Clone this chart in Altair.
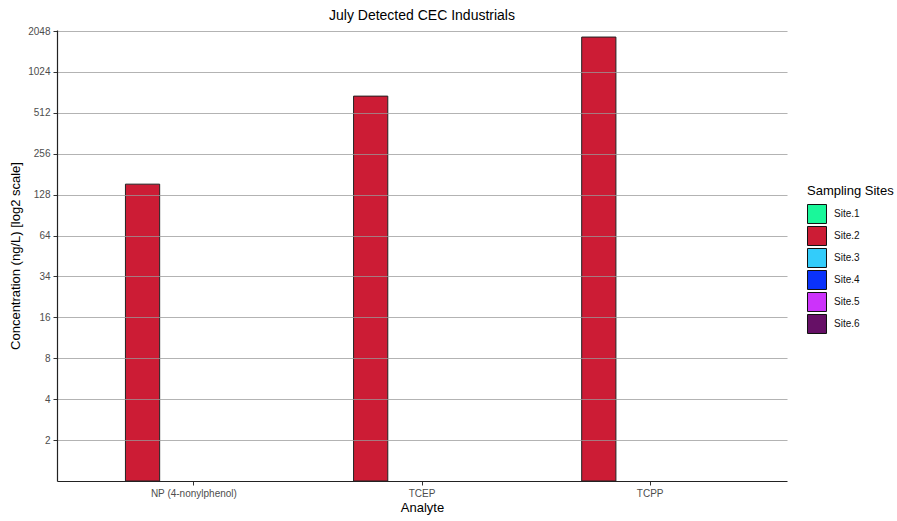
import altair as alt
import pandas as pd

# Measured concentrations (ng/L); None = not detected at that site
analytes = ["NP (4-nonylphenol)", "TCEP", "TCPP"]
sites = ["Site.1", "Site.2", "Site.3", "Site.4", "Site.5", "Site.6"]
site_colors = ["#1AF79A", "#CC1C35", "#33CCFA", "#0A32FA", "#CC33FA", "#661066"]
site1 = [None, None, None]
site2 = [153, 680, 1850]
site3 = [None, None, None]
site4 = [None, None, None]
site5 = [None, None, None]
site6 = [None, None, None]
y_ticks = [2, 4, 8, 16, 32, 64, 128, 256, 512, 1024, 2048]

rows = []
for site, vals in zip(sites, [site1, site2, site3, site4, site5, site6]):
    for analyte, v in zip(analytes, vals):
        if v is not None:
            rows.append({"Analyte": analyte, "Site": site, "Concentration": v})
df = pd.DataFrame(rows)

bars = alt.Chart(df).mark_bar(stroke="#222222", strokeWidth=1).encode(
    x=alt.X(
        "Analyte:N",
        sort=analytes,
        scale=alt.Scale(domain=analytes, paddingInner=0.1, paddingOuter=0.15),
        axis=alt.Axis(
            title="Analyte",
            labelAngle=0,
            labelColor="#4d4d4d",
            labelFontSize=10,
            labelPadding=3,
            tickColor="#333333",
            tickSize=4,
            domainColor="#222222",
            domainWidth=1.2,
            grid=False,
            titleFontSize=13,
            titleFontWeight="normal",
            titleColor="#000000",
            titlePadding=3,
        ),
    ),
    xOffset=alt.XOffset(
        "Site:N", scale=alt.Scale(domain=sites, paddingInner=0, paddingOuter=0)
    ),
    y=alt.Y(
        "Concentration:Q",
        scale=alt.Scale(type="log", base=2, domain=[1, 2085], nice=False),
        axis=alt.Axis(
            title="Concentration (ng/L) [log2 scale]",
            values=y_ticks,
            labelExpr="datum.value == 32 ? '34' : format(datum.value, 'd')",
            labelColor="#4d4d4d",
            labelFontSize=10,
            labelPadding=3,
            tickColor="#333333",
            tickSize=4,
            domainColor="#222222",
            domainWidth=1.2,
            grid=True,
            gridColor="#9a9a9a",
            gridOpacity=0.75,
            gridWidth=1.2,
            titleFontSize=13,
            titleFontWeight="normal",
            titleColor="#000000",
            titlePadding=5,
            zindex=1,
        ),
    ),
    y2=alt.datum(1),
    color=alt.Color(
        "Site:N",
        scale=alt.Scale(domain=sites, range=site_colors),
        legend=alt.Legend(
            title="Sampling Sites",
            orient="none",
            legendX=750,
            legendY=155,
            symbolType="square",
            symbolSize=360,
            symbolStrokeColor="#111111",
            symbolStrokeWidth=1,
            symbolOpacity=1,
            rowPadding=-8,
            labelOffset=7,
            labelFontSize=10,
            labelColor="#111111",
            titleFontSize=13,
            titleFontWeight="normal",
            titleColor="#000000",
            titlePadding=6,
        ),
    ),
)

chart = bars.properties(
    width=730,
    height=451,
    title=alt.TitleParams(
        "July Detected CEC Industrials",
        fontSize=14,
        fontWeight="normal",
        color="#000000",
        anchor="middle",
        offset=3,
    ),
    autosize=alt.AutoSizeParams(type="none"),
    padding={"left": 57, "top": 30, "right": 110, "bottom": 40},
).configure(
    font="Liberation Sans"
).configure_view(
    stroke=None
)

chart.save("out.html", embed_options={"renderer": "svg", "actions": False})
